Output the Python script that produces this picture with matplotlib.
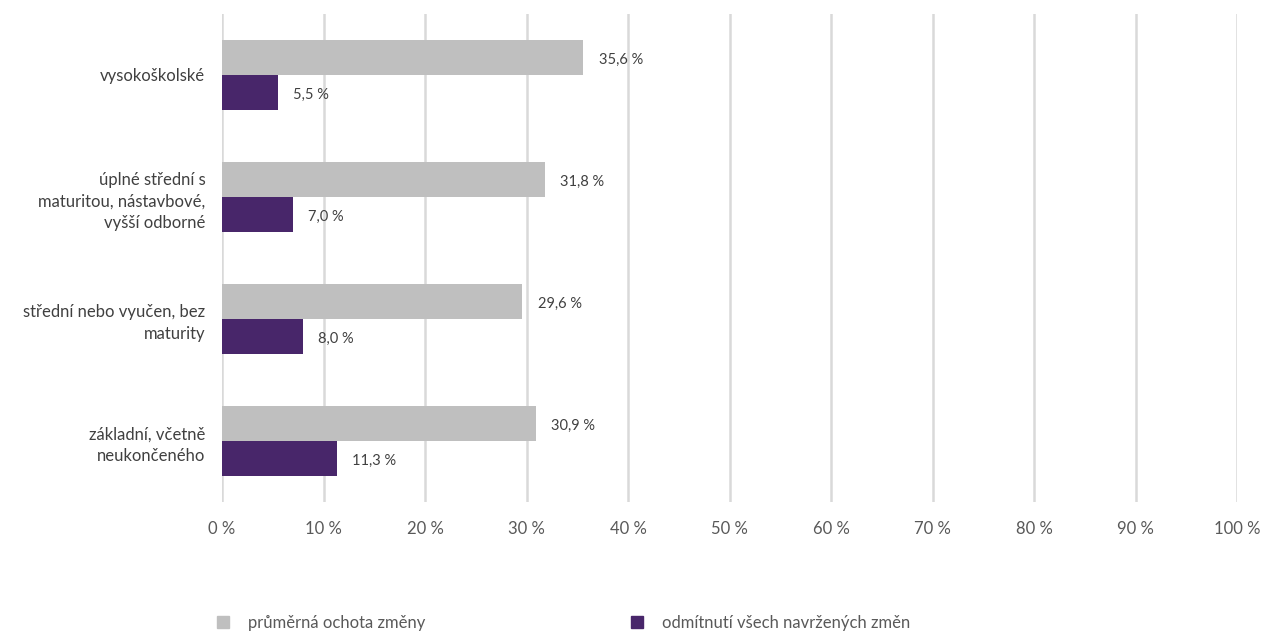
import numpy as np
import matplotlib.pyplot as plt
from matplotlib.lines import Line2D

plt.rcParams['font.family'] = ['Lato', 'DejaVu Sans']

categories = ['vysokoškolské',
              'úplné střední s\nmaturitou, nástavbové,\nvyšší odborné',
              'střední nebo vyučen, bez\nmaturity',
              'základní, včetně\nneukončeného']
ochota = [35.6, 31.8, 29.6, 30.9]
odmitnuti = [5.5, 7.0, 8.0, 11.3]
series_names = ['průměrná ochota změny', 'odmítnutí všech navržených změn']
ticks = [0, 10, 20, 30, 40, 50, 60, 70, 80, 90, 100]

c_gray = '#BFBFBF'
c_purple = '#48266A'

fig = plt.figure(figsize=(12.72, 6.34), dpi=100)
ax = fig.add_axes([222/1272, 1-502/634, (1237-222)/1272, (502-14)/634])

y = np.arange(len(categories))
h = 0.285
ax.barh(y - h/2, ochota, height=h, color=c_gray, zorder=3)
ax.barh(y + h/2, odmitnuti, height=h, color=c_purple, zorder=3)

for i in range(len(categories)):
    ax.annotate(f'{ochota[i]:.1f} %'.replace('.', ','), (ochota[i], y[i] - h/2),
                xytext=(11, -1.5), textcoords='offset points', va='center',
                fontsize=10.5, color='#404040')
    ax.annotate(f'{odmitnuti[i]:.1f} %'.replace('.', ','), (odmitnuti[i], y[i] + h/2),
                xytext=(11, -1.5), textcoords='offset points', va='center',
                fontsize=10.5, color='#404040')

ax.set_xlim(0, 100)
ax.set_ylim(len(categories) - 0.5, -0.5)
ax.set_xticks(ticks)
ax.set_xticklabels([f'{t} %' for t in ticks], fontsize=12, color='#595959')
ax.set_yticks(y)
ax.set_yticklabels(categories, fontsize=12, color='#404040', linespacing=1.45)
ax.tick_params(axis='both', length=0)
ax.tick_params(axis='x', pad=14)
ax.tick_params(axis='y', pad=12)
ax.grid(axis='x', color='#D9D9D9', linewidth=1.8, zorder=0)
for s in ax.spines.values():
    s.set_visible(False)

handles = [Line2D([], [], marker='s', linestyle='', markersize=9, color=c_gray),
           Line2D([], [], marker='s', linestyle='', markersize=9, color=c_purple)]
fig.legend(handles, series_names, loc='center left', bbox_to_anchor=(200/1272, 1-623/634),
           ncol=2, frameon=False, fontsize=12, labelcolor='#595959',
           handletextpad=0.95, columnspacing=12.25, handlelength=1.0)

fig.savefig('out.png', dpi=100)
